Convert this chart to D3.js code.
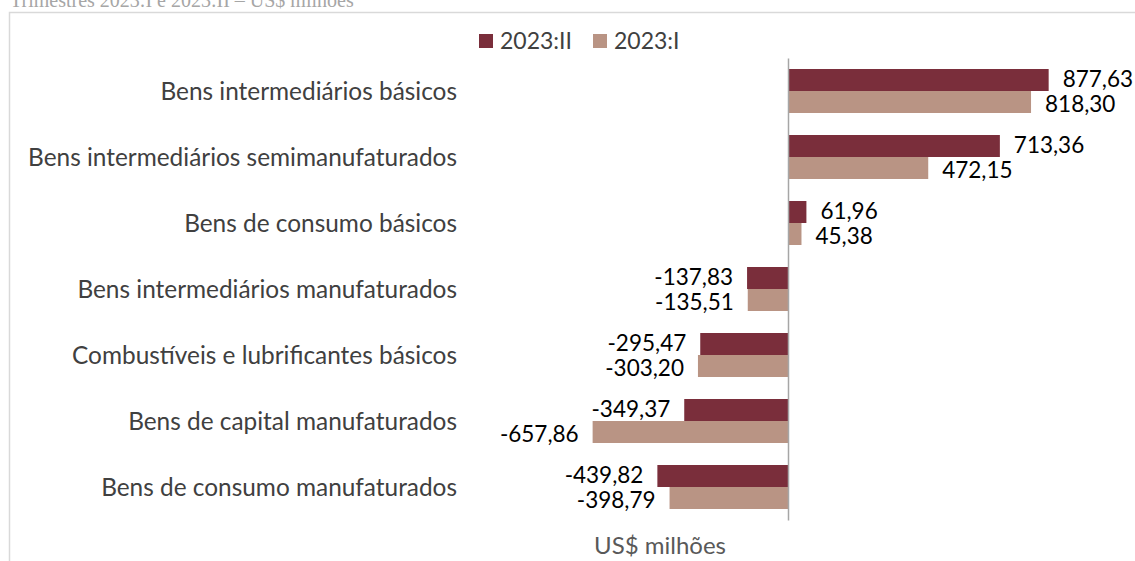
<!DOCTYPE html>
<html>
<head>
<meta charset="utf-8">
<script src="https://cdn.jsdelivr.net/npm/d3@7"></script>
<style>
  body { margin: 0; background: #fff; }
  text { font-family: Lato, "Noto Sans", sans-serif; }
</style>
</head>
<body>
<div id="chart"></div>
<script>
// data
var categories = [
  "Bens intermediários básicos",
  "Bens intermediários semimanufaturados",
  "Bens de consumo básicos",
  "Bens intermediários manufaturados",
  "Combustíveis e lubrificantes básicos",
  "Bens de capital manufaturados",
  "Bens de consumo manufaturados"
];
var seriesNames = ["2023:II", "2023:I"];
var values2023II = [877.63, 713.36, 61.96, -137.83, -295.47, -349.37, -439.82];
var values2023I = [818.30, 472.15, 45.38, -135.51, -303.20, -657.86, -398.79];

var colors = { "2023:II": "#7a2e3b", "2023:I": "#b99484" };

var svgWidth = 1135;
var svgHeight = 561;

var svg = d3.select("#chart")
  .append("svg")
  .attr("width", svgWidth)
  .attr("height", svgHeight);

// chart frame (runs off the right and bottom edge)
svg.append("rect")
  .attr("x", 9.5)
  .attr("y", 12.5)
  .attr("width", 1200)
  .attr("height", 600)
  .attr("fill", "none")
  .attr("stroke", "#d9d9d9")
  .attr("stroke-width", 1.5);

// subtitle, clipped at the very top as in the source
svg.append("text")
  .attr("x", 10)
  .attr("y", 7)
  .style("font-family", "'Liberation Serif', 'DejaVu Serif', serif")
  .attr("font-size", "20px")
  .attr("fill", "#a6a6a6")
  .text("Trimestres 2023:I e 2023:II – US$ milhões");

// scales
var xScale = d3.scaleLinear()
  .domain([-1000, 1000])
  .range([491, 1085]);

var yScale = d3.scaleBand()
  .domain(categories)
  .range([58, 520])
  .paddingInner(1 / 3)
  .paddingOuter(1 / 6);

var ySub = d3.scaleBand()
  .domain(seriesNames)
  .range([0, yScale.bandwidth()]);

var rows = categories.map(function(c, i) {
  return [
    { cat: c, series: "2023:II", value: values2023II[i] },
    { cat: c, series: "2023:I", value: values2023I[i] }
  ];
});
var flat = d3.merge(rows);

// bars
svg.append("g")
  .selectAll("rect")
  .data(flat)
  .enter()
  .append("rect")
  .attr("x", d => xScale(Math.min(0, d.value)))
  .attr("y", d => yScale(d.cat) + ySub(d.series))
  .attr("width", d => Math.abs(xScale(d.value) - xScale(0)))
  .attr("height", ySub.bandwidth())
  .attr("fill", d => colors[d.series]);

// zero axis line
var yAxis = d3.axisLeft(yScale).tickSize(0).tickFormat("");
svg.append("g")
  .attr("transform", `translate(${xScale(0)}, 0)`)
  .call(yAxis)
  .call(g => g.select(".domain").attr("stroke", "#a6a6a6").attr("stroke-width", 1.5));

// category labels
svg.append("g")
  .selectAll("text")
  .data(categories)
  .enter()
  .append("text")
  .attr("x", 457)
  .attr("y", d => yScale(d) + yScale.bandwidth() / 2)
  .attr("dy", "0.35em")
  .attr("text-anchor", "end")
  .attr("font-size", "24.4px")
  .attr("fill", "#404040")
  .text(d => d);

// value labels, decimal comma and plain hyphen
function fmtValue(v) {
  return v.toFixed(2).replace(".", ",");
}
svg.append("g")
  .selectAll("text")
  .data(flat)
  .enter()
  .append("text")
  .attr("x", d => d.value >= 0 ? xScale(d.value) + 14 : xScale(d.value) - 14)
  .attr("y", d => yScale(d.cat) + ySub(d.series) + ySub.bandwidth() / 2 + (d.series === "2023:II" ? -1 : 2))
  .attr("dy", "0.35em")
  .attr("text-anchor", d => d.value >= 0 ? "start" : "end")
  .attr("font-size", "22.5px")
  .attr("fill", "#000")
  .text(d => fmtValue(d.value));

// legend
var legendX = [479, 593];
var legend = svg.append("g")
  .selectAll("g")
  .data(seriesNames)
  .enter()
  .append("g")
  .attr("transform", (d, i) => `translate(${legendX[i]}, 34)`);

legend.append("rect")
  .attr("width", 14)
  .attr("height", 14)
  .attr("fill", d => colors[d]);

legend.append("text")
  .attr("x", 21)
  .attr("y", 7)
  .attr("dy", "0.35em")
  .attr("font-size", "23px")
  .attr("fill", "#404040")
  .text(d => d);

// axis title
svg.append("text")
  .attr("x", 660)
  .attr("y", 554)
  .attr("text-anchor", "middle")
  .attr("font-size", "24px")
  .attr("fill", "#595959")
  .text("US$ milhões");
</script>
</body>
</html>
